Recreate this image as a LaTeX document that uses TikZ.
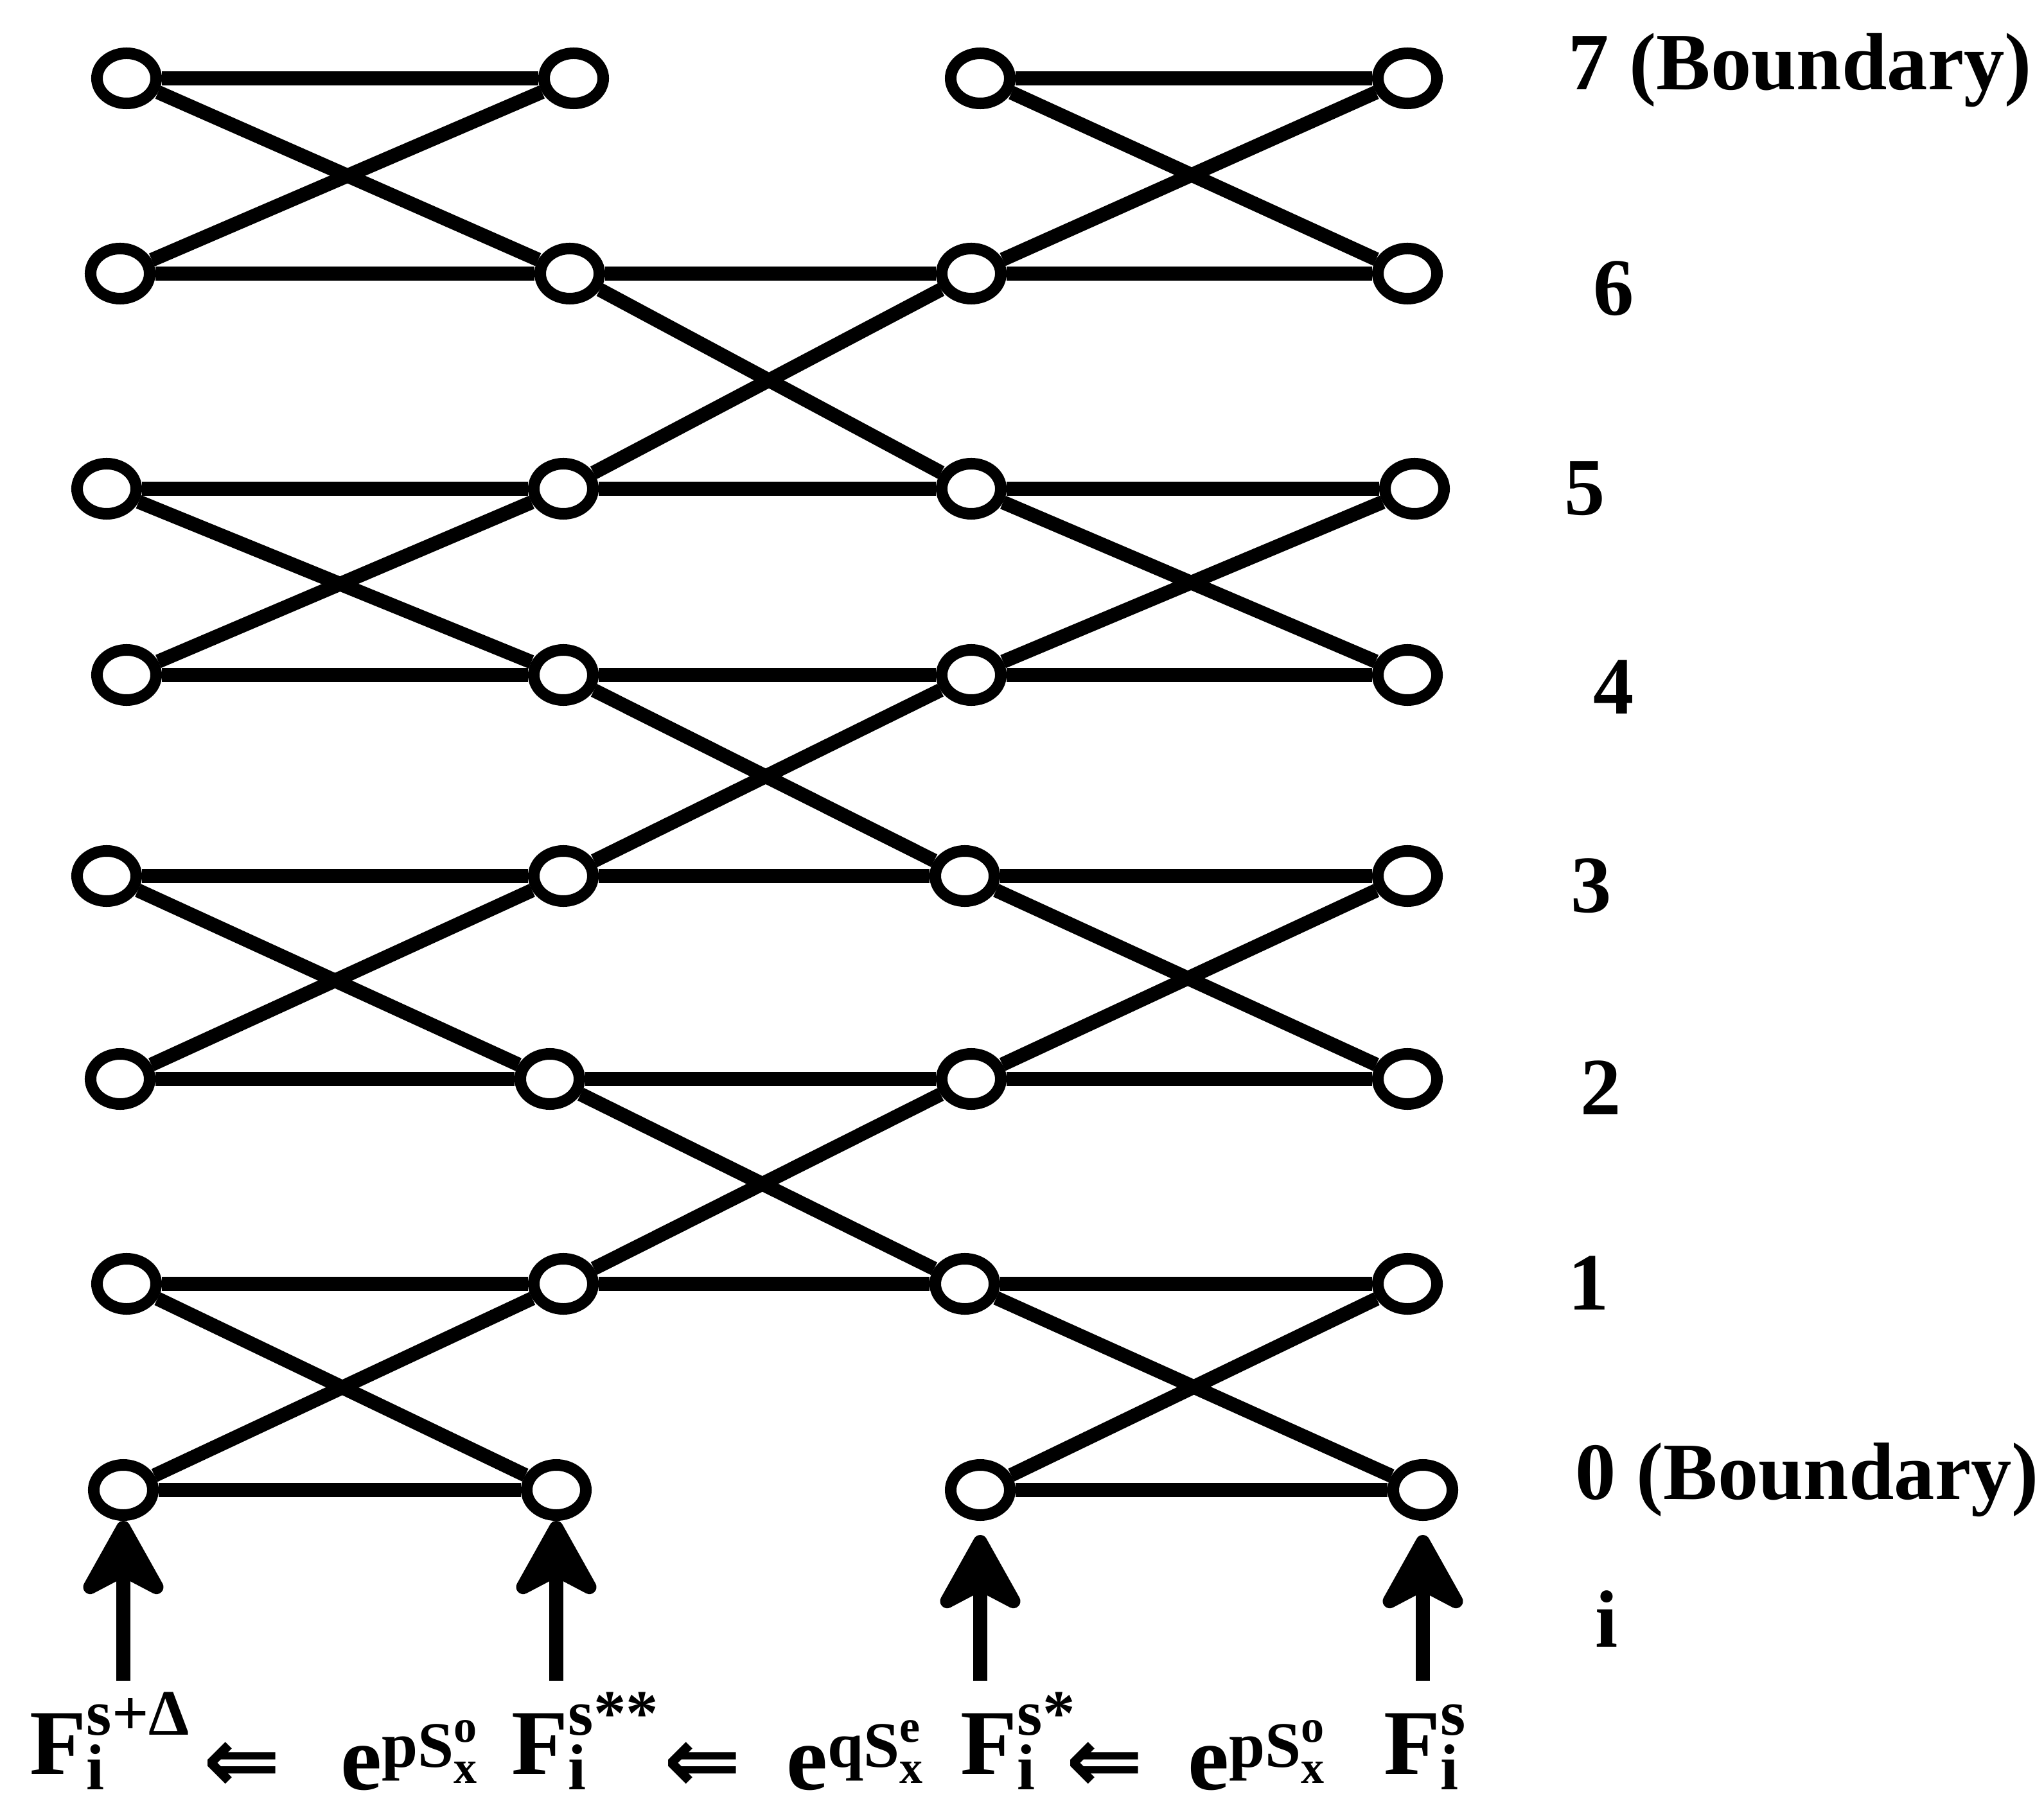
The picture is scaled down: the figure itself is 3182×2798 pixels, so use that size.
\documentclass[tikz,border=0pt]{standalone}
\usepackage{fontspec}
\usepackage{amsmath}
\setmainfont{Liberation Serif}
\newfontfamily\arrowfont{DejaVu Sans}
\usetikzlibrary{arrows.meta,shapes.geometric}

\tikzset{
  site/.style={ellipse, draw, line width=0.18cm, fill=white,
    minimum width=0.92cm, minimum height=0.78cm, inner sep=0pt},
  bond/.style={line width=0.22cm},
  feed/.style={line width=0.22cm,
    -{Stealth[length=1.4cm,width=1.55cm,inset=0.4cm,round]}},
  lev/.style={anchor=base west, inner sep=0pt,
    font=\bfseries\fontsize{36}{40}\selectfont},
  eq/.style={anchor=base west, inner sep=0pt,
    font=\bfseries\fontsize{41}{46}\selectfont},
  larr/.style={anchor=center, inner sep=0pt,
    font=\arrowfont\bfseries\fontsize{41}{46}\selectfont},
}

\begin{document}
\begin{tikzpicture}[x=0.01cm,y=-0.01cm]
\useasboundingbox (0,0) rectangle (3182,2798);

% lattice sites: row/column/x/y
\foreach \r/\c/\x/\y in {
  7/0/197/122, 7/1/893/122, 7/2/1526/122, 7/3/2191/122,
  6/0/187/426, 6/1/887/426, 6/2/1512/426, 6/3/2191/426,
  5/0/166/761, 5/1/877/761, 5/2/1512/761, 5/3/2202/761,
  4/0/197/1051, 4/1/877/1051, 4/2/1512/1051, 4/3/2191/1051,
  3/0/166/1364, 3/1/877/1364, 3/2/1502/1364, 3/3/2191/1364,
  2/0/187/1680, 2/1/856/1680, 2/2/1512/1680, 2/3/2191/1680,
  1/0/197/1999, 1/1/877/1999, 1/2/1502/1999, 1/3/2191/1999,
  0/0/192/2320, 0/1/866/2320, 0/2/1526/2320, 0/3/2215/2320}
  \node[site] (n\r\c) at (\x,\y) {};

% horizontal bonds
\foreach \r in {0,...,7} {
  \draw[bond] (n\r0) -- (n\r1);
  \draw[bond] (n\r2) -- (n\r3);
}
\foreach \r in {1,...,6}
  \draw[bond] (n\r1) -- (n\r2);

% crossing bonds, outer column gaps
\foreach \a/\b in {7/6,5/4,3/2,1/0} {
  \draw[bond] (n\a0) -- (n\b1);
  \draw[bond] (n\b0) -- (n\a1);
  \draw[bond] (n\a2) -- (n\b3);
  \draw[bond] (n\b2) -- (n\a3);
}
% crossing bonds, middle column gap
\foreach \a/\b in {6/5,4/3,2/1} {
  \draw[bond] (n\a1) -- (n\b2);
  \draw[bond] (n\b1) -- (n\a2);
}

% input arrows
\coordinate (b0) at (192,2617);
\coordinate (b1) at (866,2617);
\coordinate (b2) at (1526,2617);
\coordinate (b3) at (2215,2617);
\draw[feed] (b0) -- (n00);
\draw[feed] (b1) -- (n01);
\draw[feed, shorten >=0.22cm] (b2) -- (n02);
\draw[feed, shorten >=0.22cm] (b3) -- (n03);

% level labels
\node[lev] (l7) at (2441,140) {7 (Boundary)};
\node[lev] (l6) at (2480,491) {6};
\node[lev] (l5) at (2435,802) {5};
\node[lev] (l4) at (2480,1112) {4};
\node[lev] (l3) at (2445,1420) {3};
\node[lev] (l2) at (2460,1735) {2};
\node[lev] (l1) at (2441,2039) {1};
\node[lev] (l0) at (2452,2334) {0 (Boundary)};
\node[lev] (li) at (2483,2564) {i};

% update sequence
\node[eq] (f1) at (46,2762) {$\text{F}^{\text{s+Δ}}_{\text{i}}$};
\node[larr] (w1) at (377,2752) {⇐};
\node[eq] (e1) at (530,2786) {$\text{e}^{\text{pS}^{\text{o}}_{\text{x}}}$};
\node[eq] (f2) at (796,2762) {$\text{F}^{\text{s**}}_{\text{i}}$};
\node[larr] (w2) at (1094,2752) {⇐};
\node[eq] (e2) at (1224,2786) {$\text{e}^{\text{qS}^{\text{e}}_{\text{x}}}$};
\node[eq] (f3) at (1495,2762) {$\text{F}^{\text{s*}}_{\text{i}}$};
\node[larr] (w3) at (1720,2752) {⇐};
\node[eq] (e3) at (1849,2786) {$\text{e}^{\text{pS}^{\text{o}}_{\text{x}}}$};
\node[eq] (f4) at (2154,2762) {$\text{F}^{\text{s}}_{\text{i}}$};
\end{tikzpicture}
\end{document}
